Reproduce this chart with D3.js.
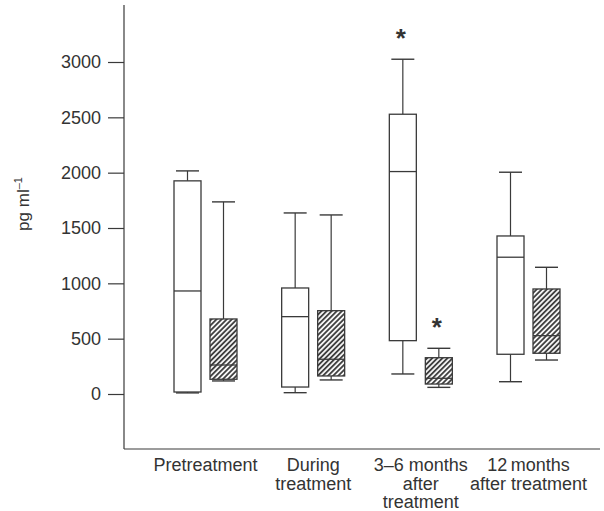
<!DOCTYPE html>
<html>
<head>
<meta charset="utf-8">
<script src="https://cdn.jsdelivr.net/npm/d3@7"></script>
<style>
	body { margin: 0; background: #fff; }
	text { font-family: "Liberation Sans", Arial, sans-serif; fill: #333; }
</style>
</head>
<body>
<svg id="chart" width="604" height="511"></svg>
<script>
// groups along the x axis, each label split in lines
var categories = ['Pretreatment', 'During treatment', '3-6 months after treatment', '12 months after treatment'];
var catLines = [['Pretreatment'], ['During', 'treatment'], ['3\u20136 months', 'after', 'treatment'], ['12\u2009months', 'after treatment']];

// open boxes
var openMin = [10, 12, 181, 111];
var openQ1 = [18, 63, 482, 359];
var openMed = [931, 699, 2010, 1236];
var openQ3 = [1926, 958, 2528, 1428];
var openMax = [2016, 1636, 3025, 2004];
var openStar = [false, false, true, false];

// hatched boxes
var hatchMin = [118, 127, 60, 307];
var hatchQ1 = [133, 163, 90, 368];
var hatchMed = [262, 314, 142, 527];
var hatchQ3 = [678, 753, 328, 949];
var hatchMax = [1736, 1618, 413, 1145];
var hatchStar = [false, false, true, false];

var yTicks = [0, 500, 1000, 1500, 2000, 2500, 3000];

var svg = d3.select('#chart');
var ink = '#3a3a3a';

var y = d3.scaleLinear().domain([0, 3000]).range([394, 62]);
var x = d3.scalePoint().domain(categories).range([205.5, 528.5]);

// hatch pattern
var pat = svg.append('defs').append('pattern')
	.attr('id', 'hatch')
	.attr('patternUnits', 'userSpaceOnUse')
	.attr('width', 3.6)
	.attr('height', 3.6)
	.attr('patternTransform', 'rotate(45)');
pat.append('rect').attr('width', 3.6).attr('height', 3.6).style('fill', '#f4f4f4');
pat.append('line')
	.attr('x1', 0.9).attr('y1', 0).attr('x2', 0.9).attr('y2', 3.6)
	.style('stroke', '#2a2a2a')
	.style('stroke-width', 1.6);

// axes frame
svg.append('line')
	.attr('x1', 124).attr('x2', 124).attr('y1', 5).attr('y2', 449)
	.style('stroke', ink).style('stroke-width', 1.2);
svg.append('line')
	.attr('x1', 124).attr('x2', 600).attr('y1', 449).attr('y2', 449)
	.style('stroke', ink).style('stroke-width', 1.2);

var yAxis = svg.append('g')
	.attr('transform', 'translate(124,0)')
	.call(d3.axisLeft(y).tickValues(yTicks).tickSize(16).tickPadding(7).tickFormat(d3.format('d')))
	.attr('font-size', 18)
	.attr('font-family', '"Liberation Sans", Arial, sans-serif');
yAxis.select('.domain').remove();
yAxis.selectAll('line').style('stroke', ink).style('stroke-width', 1.2);
yAxis.selectAll('text')
	.style('font-size', '18px')
	.style('fill', '#333');

// y label
svg.append('text')
	.attr('transform', 'translate(29,204) rotate(-90)')
	.attr('text-anchor', 'middle')
	.style('font-size', '17px')
	.html('pg ml<tspan dy="-7" style="font-size:11px">\u20131</tspan>');

// category labels
categories.forEach(function(c, i) {
	var t = svg.append('text')
		.attr('text-anchor', 'middle')
		.attr('transform', 'translate(' + x(c) + ',471)')
		.style('font-size', '18px');
	catLines[i].forEach(function(line, j) {
		t.append('tspan').attr('x', 0).attr('y', j * 18.5).text(line);
	});
});

var boxW = 27, capW = 23, offset = 18;

drawBox = function(cx, lo, q1, med, q3, hi, fill, star) {
	var g = svg.append('g');
	// whiskers
	g.append('line')
		.attr('x1', cx).attr('x2', cx).attr('y1', y(hi)).attr('y2', y(q3))
		.style('stroke', ink).style('stroke-width', 1.2);
	g.append('line')
		.attr('x1', cx).attr('x2', cx).attr('y1', y(q1)).attr('y2', y(lo))
		.style('stroke', ink).style('stroke-width', 1.2);
	[hi, lo].forEach(function(v) {
		g.append('line')
			.attr('x1', cx - capW / 2).attr('x2', cx + capW / 2)
			.attr('y1', y(v)).attr('y2', y(v))
			.style('stroke', ink).style('stroke-width', 1.4);
	});
	g.append('rect')
		.attr('x', cx - boxW / 2)
		.attr('width', boxW)
		.attr('y', y(q3))
		.attr('height', y(q1) - y(q3))
		.style('fill', fill)
		.style('stroke', ink)
		.style('stroke-width', 1.3);
	g.append('line')
		.attr('x1', cx - boxW / 2).attr('x2', cx + boxW / 2)
		.attr('y1', y(med)).attr('y2', y(med))
		.style('stroke', ink).style('stroke-width', 1.3);
	if (star) {
		g.append('text')
			.attr('text-anchor', 'middle')
			.attr('x', cx - 2)
			.attr('y', y(hi) - 12)
			.style('font-size', '26px')
			.style('font-weight', 'bold')
			.text('*');
	}
};

categories.forEach(function(c, i) {
	drawBox(x(c) - offset, openMin[i], openQ1[i], openMed[i], openQ3[i], openMax[i], '#fff', openStar[i]);
	drawBox(x(c) + offset, hatchMin[i], hatchQ1[i], hatchMed[i], hatchQ3[i], hatchMax[i], 'url(#hatch)', hatchStar[i]);
});
</script>
</body>
</html>
